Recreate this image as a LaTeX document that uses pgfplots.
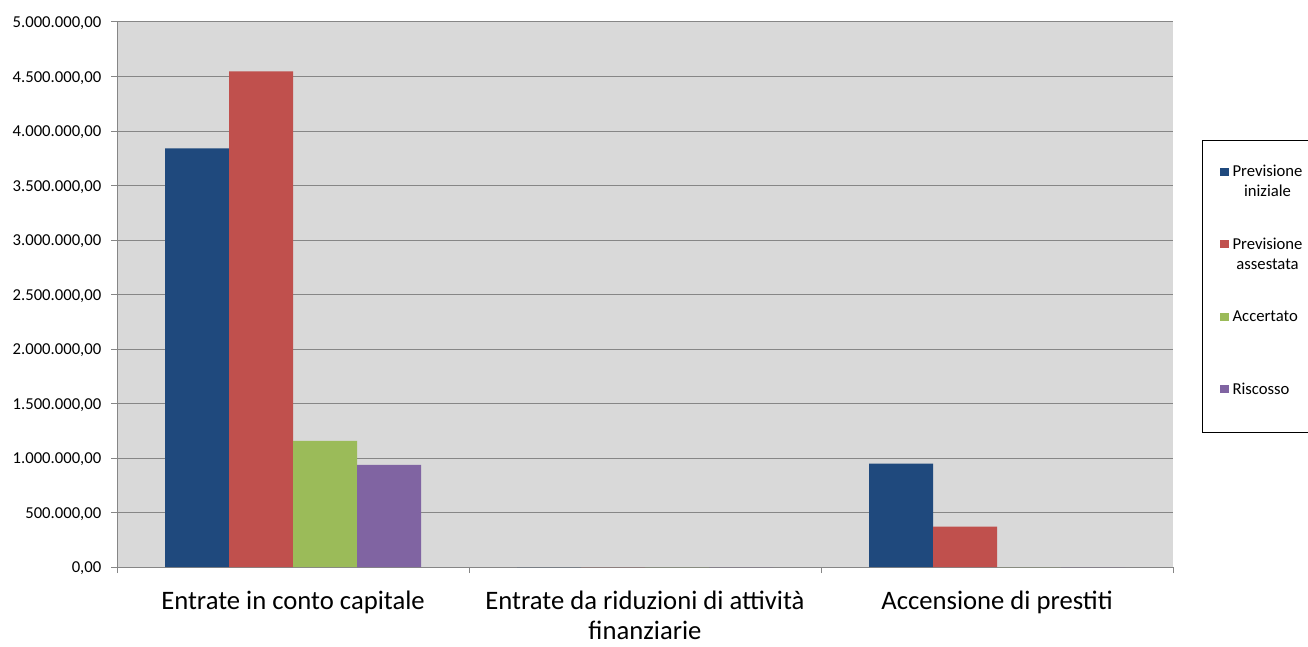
\documentclass[border=0pt]{standalone}
\usepackage{pgfplots}
\pgfplotsset{compat=1.18}
\usepackage{fontspec}
\setmainfont{Carlito}
\definecolor{cBlue}{HTML}{1F497D}
\definecolor{cRed}{HTML}{C0504D}
\definecolor{cGreen}{HTML}{9BBB59}
\definecolor{cPurple}{HTML}{8064A2}
\definecolor{plotbg}{HTML}{D9D9D9}
\definecolor{gridc}{HTML}{868686}
\begin{document}
\begin{tikzpicture}
\useasboundingbox (0,0) rectangle (981pt,484.5pt);
\draw[black, line width=0.6pt] (981.5pt,379.5pt) -- (901.5pt,379.5pt) -- (901.5pt,160.5pt) -- (981.5pt,160.5pt);
\begin{axis}[
  at={(87.75pt,59.25pt)}, anchor=south west,
  scale only axis, width=792pt, height=408.75pt,
  ybar=0pt, bar width=48pt,
  xmin=-0.5, xmax=2.5, ymin=0, ymax=5000000,
  xtick={-0.5,0.5,1.5,2.5}, xticklabels={,,,},
  extra x ticks={0,1,2},
  extra x tick labels={Entrate in conto capitale,{Entrate da riduzioni di attività\\finanziarie},Accensione di prestiti},
  extra x tick style={major tick length=0pt, grid=none},
  xticklabel style={align=center, font=\fontsize{20}{22.5}\selectfont, yshift=-14.5pt},
  ytick={0,500000,...,5000000},
  scaled y ticks=false,
  yticklabel style={font=\fontsize{12.5}{15}\selectfont, xshift=-3.75pt, yshift=-1pt, /pgf/number format/.cd, fixed, fixed zerofill, precision=2, 1000 sep={.}, dec sep={,}, assume math mode=true},
  ymajorgrids, grid style={gridc, line width=0.75pt},
  axis x line*=bottom, axis y line*=left,
  axis line style={gridc, line width=0.75pt},
  tick align=outside, tick style={gridc, line width=0.75pt}, major tick length=4.5pt,
  axis background/.style={fill=plotbg},
  legend style={at={(1.029,0.7725)}, anchor=north west, draw=none, fill=none,
    font=\fontsize{12.5}{15}\selectfont, inner xsep=2pt, inner ysep=14pt, row sep=29.5pt,
    nodes={align=center, inner sep=0pt}, column sep=3pt},
  legend cell align=left,
  legend image code/.code={\path (-10pt,0pt); \fill[#1] (0pt,4.5pt) rectangle (6.5pt,10.5pt);},
]
\addplot[fill=cBlue, draw=none] coordinates {(0,3841000) (1,0) (2,949000)};
\addplot[fill=cRed, draw=none] coordinates {(0,4548000) (1,0) (2,370000)};
\addplot[fill=cGreen, draw=none] coordinates {(0,1156000) (1,0) (2,0)};
\addplot[fill=cPurple, draw=none] coordinates {(0,936000) (1,0) (2,0)};
\legend{{Previsione\\iniziale},{Previsione\\assestata},{Accertato\\\strut},{Riscosso\\\strut}}
\end{axis}
\end{tikzpicture}
\end{document}
